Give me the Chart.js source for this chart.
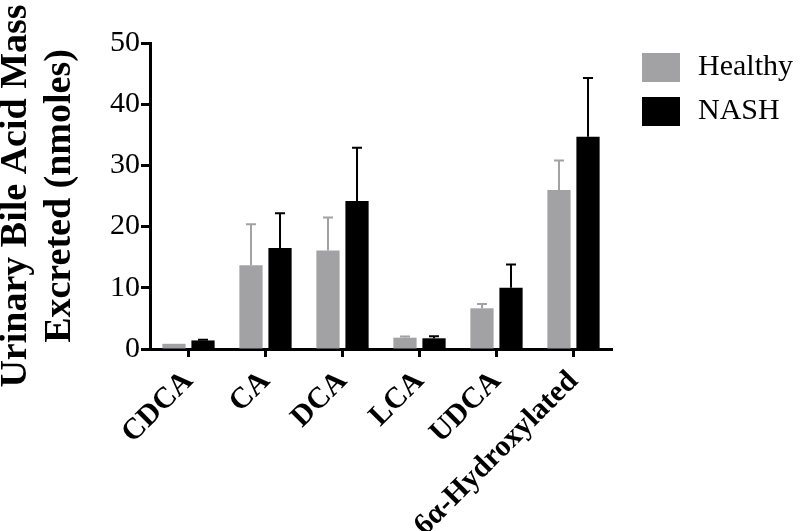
<!DOCTYPE html>
<html>
<head>
<meta charset="utf-8">
<script src="https://cdn.jsdelivr.net/npm/chart.js@4"></script>
<style>
  body { margin: 0; background: #fff; }
</style>
</head>
<body>
<canvas id="bileChart" width="800" height="531"></canvas>
<script>
const categories = ['CDCA', 'CA', 'DCA', 'LCA', 'UDCA', '6α-Hydroxylated']
const healthy = [0.85, 13.7, 16.1, 1.85, 6.65, 26.0]
const healthyErr = [0, 6.7, 5.4, 0.2, 0.7, 4.8]
const nash = [1.4, 16.5, 24.2, 1.75, 10.0, 34.7]
const nashErr = [0.1, 5.7, 8.7, 0.35, 3.8, 9.6]
const yTicks = [0, 10, 20, 30, 40, 50]

const GREY = '#a2a2a4'
const SERIF = '"Liberation Serif", "Times New Roman", serif'

// upward-only error bars with a cap, drawn through the y scale
const errorBars = {
  id: 'errorBars',
  afterDatasetsDraw(chart) {
    const ctx = chart.ctx
    const y = chart.scales.y
    chart.data.datasets.forEach((ds, d) => {
      chart.getDatasetMeta(d).data.forEach((bar, i) => {
        const err = ds.errors[i]
        if (!err) return
        const top = y.getPixelForValue(ds.data[i] + err)
        ctx.save()
        ctx.strokeStyle = ds.backgroundColor
        ctx.lineWidth = 2
        ctx.beginPath()
        ctx.moveTo(bar.x, bar.y)
        ctx.lineTo(bar.x, top)
        ctx.moveTo(bar.x - 5, top)
        ctx.lineTo(bar.x + 5, top)
        ctx.stroke()
        ctx.restore()
      })
    })
  }
}

const sideLegend = {
  id: 'sideLegend',
  afterDraw(chart) {
    const ctx = chart.ctx
    ctx.save()
    ctx.font = '30px ' + SERIF
    ctx.textBaseline = 'middle'
    chart.data.datasets.forEach((ds, i) => {
      const top = 53 + i * 44
      ctx.fillStyle = ds.backgroundColor
      ctx.fillRect(642, top, 38, 29)
      ctx.fillStyle = '#000'
      ctx.fillText(ds.label, 698, top + 14)
    })
    ctx.restore()
  }
}

const ctx = document.getElementById('bileChart')

new Chart(ctx, {
  type: 'bar',
  data: {
    labels: categories,
    datasets: [{
      label: 'Healthy',
      data: healthy,
      errors: healthyErr,
      backgroundColor: GREY
    }, {
      label: 'NASH',
      data: nash,
      errors: nashErr,
      backgroundColor: '#000'
    }]
  },
  plugins: [errorBars, sideLegend],
  options: {
    responsive: false,
    animation: false,
    layout: {
      padding: { top: 43, right: 188, left: 0, bottom: 0 }
    },
    datasets: {
      bar: { categoryPercentage: 0.754, barPercentage: 0.8 }
    },
    plugins: {
      legend: { display: false },
      tooltip: { enabled: false }
    },
    scales: {
      x: {
        grid: {
          drawOnChartArea: false,
          offset: false,
          tickLength: 8,
          tickWidth: 3,
          tickColor: '#000'
        },
        border: { color: '#000', width: 3 },
        ticks: {
          color: '#000',
          font: { family: SERIF, size: 30, weight: 'bold' },
          minRotation: 45,
          maxRotation: 45,
          autoSkip: false,
          padding: 7
        },
        afterFit: (scale) => { scale.height = 182 }
      },
      y: {
        min: 0,
        max: 50,
        afterBuildTicks: (scale) => { scale.ticks = yTicks.map(v => ({ value: v })) },
        grid: {
          drawOnChartArea: false,
          tickLength: 9,
          tickWidth: 3,
          tickColor: '#000'
        },
        border: { color: '#000', width: 3 },
        ticks: {
          color: '#000',
          font: { family: SERIF, size: 30 },
          padding: 1
        },
        title: {
          display: true,
          text: ['Urinary Bile Acid Mass', 'Excreted (nmoles)'],
          color: '#000',
          font: { family: SERIF, size: 38, weight: 'bold', lineHeight: 1.16 },
          padding: { top: -6, bottom: 0 }
        },
        afterFit: (scale) => { scale.width = 150 }
      }
    }
  }
})
</script>
</body>
</html>
